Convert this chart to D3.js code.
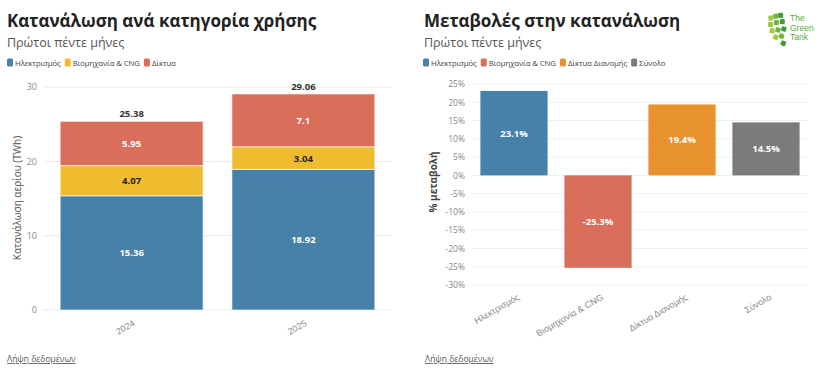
<!DOCTYPE html>
<html><head><meta charset="utf-8">
<script src="https://cdn.jsdelivr.net/npm/d3@7"></script>
<style>
body{margin:0;background:#fff;}
svg{display:block;font-family:"Open Sans","Noto Sans",sans-serif;}
</style></head>
<body><svg id="c" width="835" height="379"></svg>
<script>
// ---- Data ----
const years = ["2024", "2025"];
const seriesNames = ["Ηλεκτρισμός", "Βιομηχανία & CNG", "Δίκτυα"];
const electricity = [15.36, 18.92];
const industry = [4.07, 3.04];
const networks = [5.95, 7.1];
const totals = [25.38, 29.06];
const leftTicks = [0, 10, 20, 30];

const changeCats = ["Ηλεκτρισμός", "Βιομηχανία & CNG", "Δίκτυα Διανομής", "Σύνολο"];
const changeVals = [23.1, -25.3, 19.4, 14.5];
const rightTicks = [25, 20, 15, 10, 5, 0, -5, -10, -15, -20, -25, -30];

const cBlue = "#4581a8", cYellow = "#efbc2f", cRed = "#d96e5b", cOrange = "#e8922d", cGrey = "#7b7b7b";
const leftColors = [cBlue, cYellow, cRed];
const rightColors = [cBlue, cRed, cOrange, cGrey];

const svg = d3.select("#c");

function legend(g, x0, y, names, colors) {
  let x = x0;
  names.forEach((n, i) => {
    g.append("rect").attr("x", x).attr("y", y - 4.5).attr("width", 6).attr("height", 8)
      .attr("rx", 1.5).attr("fill", colors[i]);
    const t = g.append("text").attr("x", x + 8).attr("y", y + 3).text(n)
      .attr("font-size", 7.8).attr("fill", "#444").attr("letter-spacing", -0.1);
    x += 8 + t.node().getComputedTextLength() + 4;
  });
}

// ---------- Left chart ----------
const L = svg.append("g");
L.append("text").attr("x", 7).attr("y", 27).text("Κατανάλωση ανά κατηγορία χρήσης")
  .attr("font-size", 17).attr("font-weight", 700).attr("fill", "#222");
L.append("text").attr("x", 7).attr("y", 47).text("Πρώτοι πέντε μήνες")
  .attr("font-size", 12.5).attr("fill", "#555");
legend(L, 7, 63, seriesNames, leftColors);

const ly = d3.scaleLinear().domain([0, 30]).range([310, 87]);
const lx = d3.scaleBand().domain(years).range([43, 392]).paddingInner(0.168).paddingOuter(0.1);

L.append("g").selectAll("line").data(leftTicks).join("line")
  .attr("x1", 43).attr("x2", 392).attr("y1", d => ly(d)).attr("y2", d => ly(d))
  .attr("stroke", "#ececec").attr("stroke-width", 1);

const lAxis = L.append("g").attr("transform", "translate(43,0)")
  .call(d3.axisLeft(ly).tickValues(leftTicks).tickSize(0).tickPadding(6));
lAxis.select(".domain").remove();
lAxis.selectAll("text").attr("font-size", 9).attr("fill", "#888").attr("font-family", "Open Sans");

const stackData = years.map((y, i) => ({ year: y, e: electricity[i], ind: industry[i], n: networks[i] }));
const stack = d3.stack().keys(["e", "ind", "n"])(stackData);
stack.forEach((layer, li) => {
  L.append("g").selectAll("rect").data(layer).join("rect")
    .attr("x", d => lx(d.data.year)).attr("width", lx.bandwidth())
    .attr("y", d => ly(d[1])).attr("height", d => ly(d[0]) - ly(d[1]))
    .attr("fill", leftColors[li]).attr("stroke", "#fff").attr("stroke-opacity", 0.6).attr("stroke-width", 1);
  L.append("g").selectAll("text").data(layer).join("text")
    .attr("x", d => lx(d.data.year) + lx.bandwidth() / 2)
    .attr("y", d => (ly(d[0]) + ly(d[1])) / 2 + 3.5)
    .attr("text-anchor", "middle").attr("font-size", 9.5).attr("font-weight", 700)
    .attr("fill", li === 1 ? "#222" : "#fff")
    .text(d => d.data[["e", "ind", "n"][li]]);
});
L.append("g").selectAll("text").data(years).join("text")
  .attr("x", d => lx(d) + lx.bandwidth() / 2).attr("y", (d, i) => ly(totals[i]) - 4)
  .attr("text-anchor", "middle").attr("font-size", 9.5).attr("font-weight", 700).attr("fill", "#333")
  .text((d, i) => totals[i]);

const lxAxis = L.append("g").attr("transform", "translate(0,310)")
  .call(d3.axisBottom(lx).tickSize(0).tickPadding(0));
lxAxis.select(".domain").remove();
lxAxis.selectAll("text").attr("font-size", 9).attr("fill", "#888")
  .attr("text-anchor", "end").attr("transform", "translate(4,15) rotate(-30)").attr("dy", 0);

L.append("text").attr("transform", "translate(21,198) rotate(-90)").attr("text-anchor", "middle")
  .attr("font-size", 10).attr("fill", "#555").text("Κατανάλωση αερίου (TWh)");

L.append("text").attr("x", 7).attr("y", 362).text("Λήψη δεδομένων").attr("font-size", 8.5)
  .attr("fill", "#555").attr("text-decoration", "underline");

// ---------- Right chart ----------
const R = svg.append("g");
R.append("text").attr("x", 424).attr("y", 27).text("Μεταβολές στην κατανάλωση")
  .attr("font-size", 17).attr("font-weight", 700).attr("fill", "#222");
R.append("text").attr("x", 424).attr("y", 47).text("Πρώτοι πέντε μήνες")
  .attr("font-size", 12.5).attr("fill", "#555");
legend(R, 423, 63, changeCats, rightColors);

const ry = d3.scaleLinear().domain([-30, 25]).range([285, 84]);
const rx = d3.scaleBand().domain(changeCats).range([472, 808]).paddingInner(0.2).paddingOuter(0.1);

R.append("g").selectAll("line").data(rightTicks).join("line")
  .attr("x1", 472).attr("x2", 808).attr("y1", d => ry(d)).attr("y2", d => ry(d))
  .attr("stroke", "#efefef").attr("stroke-width", 1);

const rAxis = R.append("g").attr("transform", "translate(471,0)")
  .call(d3.axisLeft(ry).tickValues(rightTicks).tickSize(0).tickPadding(6).tickFormat(d => d + "%"));
rAxis.select(".domain").remove();
rAxis.selectAll("text").attr("font-size", 8.5).attr("fill", "#888").attr("font-family", "Open Sans");

R.append("g").selectAll("rect").data(changeVals).join("rect")
  .attr("x", (d, i) => rx(changeCats[i])).attr("width", rx.bandwidth())
  .attr("y", d => ry(Math.max(0, d))).attr("height", d => Math.abs(ry(d) - ry(0)))
  .attr("fill", (d, i) => rightColors[i]);
R.append("g").selectAll("text").data(changeVals).join("text")
  .attr("x", (d, i) => rx(changeCats[i]) + rx.bandwidth() / 2)
  .attr("y", d => (ry(d) + ry(0)) / 2 + 3.5)
  .attr("text-anchor", "middle").attr("font-size", 9.5).attr("font-weight", 700).attr("fill", "#fff")
  .text(d => d.toFixed(1) + "%");

const rxAxis = R.append("g").attr("transform", "translate(0,285)")
  .call(d3.axisBottom(rx).tickSize(0).tickPadding(0));
rxAxis.select(".domain").remove();
rxAxis.selectAll("text").attr("font-size", 9).attr("fill", "#888")
  .attr("text-anchor", "end").attr("transform", "translate(6,14) rotate(-30)").attr("dy", 0);

R.append("text").attr("transform", "translate(437,182) rotate(-90)").attr("text-anchor", "middle")
  .attr("font-size", 10).attr("font-weight", 700).attr("fill", "#444").text("% μεταβολή");

R.append("text").attr("x", 425).attr("y", 362).text("Λήψη δεδομένων").attr("font-size", 8.5)
  .attr("fill", "#555").attr("text-decoration", "underline");

// ---------- Logo ----------
const logo = svg.append("g").attr("transform", "translate(768,12)");
const tiles = [[0,4],[5,2],[10,1],[0,10],[6,8],[12,7],[2,16],[8,15],[14,14],[6,22],[12,21],[14,28]];
tiles.forEach(([x, y], i) => logo.append("rect").attr("x", x).attr("y", y).attr("width", 5).attr("height", 5)
  .attr("rx", 1).attr("fill", i % 3 === 0 ? "#9bcf3c" : (i % 3 === 1 ? "#6cb63a" : "#3f9a3a"))
  .attr("transform", `rotate(${-10 + i * 3},${x},${y})`));
["The", "Green", "Tank"].forEach((t, i) => logo.append("text").attr("x", 22).attr("y", 9 + i * 9.5)
  .text(t).attr("font-size", 8.5).attr("fill", "#5aae3a").attr("font-family", "Liberation Sans Narrow, Arial Narrow, sans-serif"));
</script></body></html>
